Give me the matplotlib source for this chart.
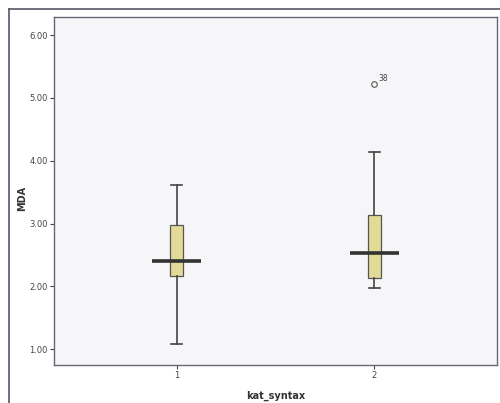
import matplotlib

matplotlib.use("Agg")
import matplotlib.pyplot as plt
from matplotlib.lines import Line2D

# box statistics (MDA by kat_syntax)
groups = ["1", "2"]
positions = [1, 2]
q1 = [2.17, 2.14]
med = [2.40, 2.53]
q3 = [2.97, 3.14]
whislo = [1.08, 1.98]
whishi = [3.62, 4.14]
fliers = [[], [5.22]]
flier_ids = [[], ["38"]]
yticks = [1.0, 2.0, 3.0, 4.0, 5.0, 6.0]

stats = []
for i, g in enumerate(groups):
    stats.append({"label": g, "q1": q1[i], "med": med[i], "q3": q3[i],
                  "whislo": whislo[i], "whishi": whishi[i], "fliers": fliers[i]})

fig = plt.figure(figsize=(5, 4.03), dpi=100)
fig.patch.set_facecolor("white")
ax = fig.add_axes([0.108, 0.094, 0.886, 0.864])
ax.set_facecolor("#f6f6f9")

ax.bxp(stats, positions=positions, widths=0.066, patch_artist=True,
       boxprops=dict(facecolor="#e4da98", edgecolor="#555555", linewidth=0.9),
       whiskerprops=dict(color="#444444", linewidth=1.2),
       capprops=dict(color="#444444", linewidth=1.2),
       capwidths=0.055,
       medianprops=dict(linewidth=0),
       flierprops=dict(marker="o", markersize=4, markerfacecolor="none",
                       markeredgecolor="#555555", markeredgewidth=0.8))

# SPSS style long median bars
for p, m in zip(positions, med):
    ax.plot([p - 0.125, p + 0.125], [m, m], color="#333333", linewidth=2.6,
            solid_capstyle="butt", zorder=5)

for p, vals, ids in zip(positions, fliers, flier_ids):
    for v, t in zip(vals, ids):
        ax.annotate(t, (p, v), xytext=(3, 2), textcoords="offset points",
                    fontsize=5.5, color="#444444")

ax.set_xlim(0.38, 2.62)
ax.set_ylim(0.745, 6.29)
ax.set_xticks(positions)
ax.set_xticklabels(groups)
ax.set_yticks(yticks)
ax.set_yticklabels([f"{v:.2f}" for v in yticks])
ax.tick_params(labelsize=6, length=3, width=0.8, colors="#444444", pad=1.5)

for s in ax.spines.values():
    s.set_color("#666677")
    s.set_linewidth(1.0)

ax.set_xlabel("kat_syntax", fontsize=7, fontweight="bold", color="#333333",
              va="center")
ax.xaxis.set_label_coords(0.50, -0.088)
ax.set_ylabel("MDA", fontsize=7, fontweight="bold", color="#333333", va="center")
ax.yaxis.set_label_coords(-0.073, 0.48)

# outer chart frame
fig.add_artist(Line2D([9 / 500, 9 / 500], [0, 1 - 9 / 403], color="#555566",
                      linewidth=1.2, transform=fig.transFigure))
fig.add_artist(Line2D([9 / 500, 1], [1 - 9 / 403, 1 - 9 / 403], color="#555566",
                      linewidth=1.2, transform=fig.transFigure))

fig.savefig("out.png", dpi=100)
plt.close(fig)
